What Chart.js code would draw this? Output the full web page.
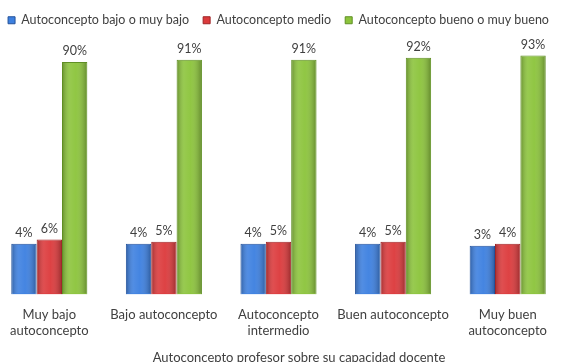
<!DOCTYPE html>
<html>
<head>
<meta charset="utf-8">
<script src="https://cdn.jsdelivr.net/npm/chart.js@4/dist/chart.umd.min.js"></script>
<style>
  body { margin: 0; background: #fff; overflow: hidden; }
  #wrap { position: relative; width: 578px; height: 362px; overflow: hidden; }
  #c { position: absolute; left: -8px; top: 0; }
  #xtitle { position: absolute; left: 0; width: 598px; top: 349px; text-align: center;
            font: 13px Lato, sans-serif; color: #404040; }
</style>
</head>
<body>
<div id="wrap">
  <canvas id="c" width="586" height="362"></canvas>
  <div id="xtitle">Autoconcepto profesor sobre su capacidad docente</div>
</div>
<script>
const categories = [
    ['Muy bajo', 'autoconcepto'],
    'Bajo autoconcepto',
    ['Autoconcepto', 'intermedio'],
    'Buen autoconcepto',
    ['Muy buen', 'autoconcepto'],
];
const seriesNames = ['Autoconcepto bajo o muy bajo', 'Autoconcepto medio', 'Autoconcepto bueno o muy bueno'];
const bajo = [4, 4, 4, 4, 3];
const medio = [6, 5, 5, 5, 4];
const bueno = [90, 91, 91, 92, 93];

const FILL = ['#3d80e0', '#dc3a3c', '#8cc43c'];
const EDGE = ['#24529a', '#9e2426', '#5f8f24'];
const FONT = 'Lato, sans-serif';

// sombreado horizontal tipo "cilindro" encima de cada barra + etiquetas de valor
const barDecor = {
    id: 'barDecor',
    afterDatasetsDraw(chart) {
        const ctx = chart.ctx;
        ctx.save();
        chart.data.datasets.forEach((ds, di) => {
            chart.getDatasetMeta(di).data.forEach((bar, i) => {
                const { x, y, base, width } = bar.getProps(['x', 'y', 'base', 'width'], true);
                const l = x - width / 2;
                const g = ctx.createLinearGradient(l, 0, l + width, 0);
                g.addColorStop(0, 'rgba(0,0,0,0.28)');
                g.addColorStop(0.3, 'rgba(255,255,255,0.10)');
                g.addColorStop(0.55, 'rgba(255,255,255,0.04)');
                g.addColorStop(1, 'rgba(0,0,0,0.30)');
                ctx.fillStyle = g;
                ctx.fillRect(l + 1, y + 1, width - 2, base - y - 2);

                ctx.fillStyle = '#404040';
                ctx.font = '12.5px ' + FONT;
                ctx.textAlign = 'center';
                ctx.textBaseline = 'middle';
                ctx.fillText(ds.data[i] + '%', x, y - 11);
            });
        });
        ctx.restore();
    },
};

const mkSet = (label, data, k) => ({
    label,
    data,
    base: -20,
    backgroundColor: FILL[k],
    borderColor: EDGE[k],
    borderWidth: 1,
    categoryPercentage: 0.664,
    barPercentage: 1,
});

new Chart(document.getElementById('c'), {
    type: 'bar',
    data: {
        labels: categories,
        datasets: [mkSet(seriesNames[0], bajo, 0), mkSet(seriesNames[1], medio, 1), mkSet(seriesNames[2], bueno, 2)],
    },
    options: {
        responsive: false,
        animation: false,
        layout: { padding: { left: 0, right: 13, top: 0, bottom: 11 } },
        plugins: {
            legend: {
                position: 'top',
                labels: { boxWidth: 7, boxHeight: 7, padding: 14, color: '#404040', font: { family: FONT, size: 12.5 } },
            },
            tooltip: { enabled: false },
        },
        scales: {
            x: {
                grid: { display: false, drawTicks: false },
                border: { display: false },
                ticks: { padding: 12, color: '#404040', font: { family: FONT, size: 13, lineHeight: 1.25 }, maxRotation: 0 },
            },
            y: { display: false, min: -20, max: 102 },
        },
    },
    plugins: [barDecor],
});
</script>
</body>
</html>
